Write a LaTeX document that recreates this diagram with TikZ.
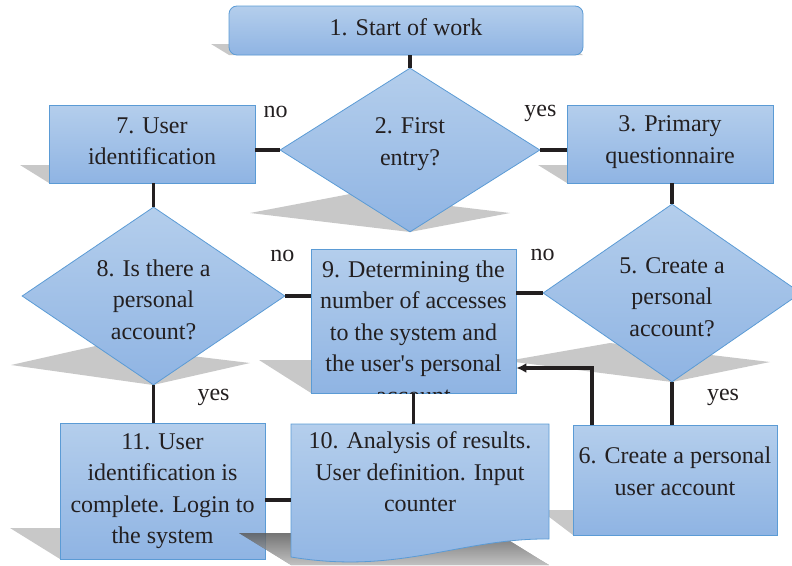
\documentclass[tikz,border=0pt]{standalone}
\usepackage{fontspec}
\setmainfont{Liberation Serif}
\usetikzlibrary{shapes.geometric,arrows.meta,calc}
\tikzset{>={Latex[length=10pt,width=10pt]}}
\definecolor{boxtop}{HTML}{B4CEEC}
\definecolor{boxbot}{HTML}{8FB4E3}
\definecolor{boxline}{HTML}{5B9BD5}
\definecolor{shade}{HTML}{C8C8C8}
\definecolor{ink}{HTML}{231F20}
\tikzset{
  block/.style={rectangle, draw=boxline, line width=0.8pt, top color=boxtop, bottom color=boxbot,
    align=center, text=ink, font=\fontsize{24}{31.5}\selectfont, inner sep=0pt},
  decision/.style={block, diamond, shape aspect=1.5},
  startbox/.style={block, rounded corners=8pt},
  lbl/.style={text=ink, font=\fontsize{24}{31.5}\selectfont, inner sep=0pt},
  link/.style={line width=3.5pt, draw=ink},
  shadowpoly/.style={fill=shade}
}

\begin{document}
\begin{tikzpicture}[x=1pt, y=-1pt]
      \useasboundingbox (0,0) rectangle (792,565);

      % shadows
      \fill[shadowpoly] (229,55) -- (583,55) -- (565,44) -- (211,44) -- cycle;
      \fill[shadowpoly] (410,232) -- (250,213) -- (350,194) -- (510,213) -- cycle;
      \fill[shadowpoly] (49,183) -- (255,183) -- (226,165) -- (20,165) -- cycle;
      \fill[shadowpoly] (567,183) -- (773,183) -- (744,165) -- (538,165) -- cycle;
      \fill[shadowpoly] (153,385) -- (11,365) -- (100,345) -- (250,363) -- cycle;
      \fill[shadowpoly] (672,382) -- (507,361) -- (610,343) -- (770,362) -- cycle;
      \fill[shadowpoly] (311,393) -- (516,393) -- (490,360) -- (259,360) -- cycle;
      \fill[shadowpoly] (60,559) -- (265,559) -- (240,528) -- (10,528) -- cycle;
      \fill[shadowpoly] (573,535) -- (777,535) -- (750,510) -- (540,510) -- cycle;

      \node[startbox, minimum width=354pt, minimum height=49pt, text depth=6pt] (start) at (406,30.5) {1. Start of work};
      \node[decision, minimum width=260pt, minimum height=164pt, text depth=17pt] (first) at (410,150) {2. First\\entry?};
      \node[block, minimum width=206pt, minimum height=78pt, text depth=6pt] (ident) at (152,144) {7. User\\identification};
      \node[block, minimum width=206pt, minimum height=78pt, text depth=9pt] (quest) at (670,144) {3. Primary\\questionnaire};
      \node[decision, minimum width=263pt, minimum height=178pt, text height=87pt] (hasacc) at (153.5,296) {8. Is there a\\personal\\account?};
      \node[block, minimum width=205pt, minimum height=144pt] (access) at (413.5,321) {};
      \begin{scope}
        \clip (access.south west) rectangle (access.north east);
        \node[lbl, anchor=north, align=center] (accesstext) at ([yshift=-12pt]access.north)
          {9. Determining the\\number of accesses\\to the system and\\the user\textquotesingle s personal\\account};
      \end{scope}
      \node[decision, minimum width=258pt, minimum height=178pt, text height=87pt] (makeacc) at (672,293) {5. Create a\\personal\\account?};
      \node[block, minimum width=205pt, minimum height=136pt] (login) at (162.5,491) {11. User\\identification is\\complete. Login to\\the system};
      \node[block, minimum width=204pt, minimum height=110pt, text depth=18pt] (newacc) at (675,480) {6. Create a personal\\user account};

      % document shape of step 10
      \fill[shade, opacity=0.6] (239,533) -- (497,533) -- (539,559) -- (549,565) -- (291,565) -- cycle;
      \path[draw=boxline, line width=0.8pt, top color=boxtop, bottom color=boxbot]
        (291,424) -- (549,424) -- (549,539) .. controls (460,538) and (400,575) .. (291,557) -- cycle;
      \node[lbl, align=center, minimum width=258pt, minimum height=96pt] (analysis) at (420,472)
        {10. Analysis of results.\\User definition. Input\\counter};

      \draw[link] (first.north |- start.south) -- (first.north);
      \draw[link] (first.west) -- node[lbl, at start, xshift=-4pt, yshift=38pt] (no1) {no} (first.west -| ident.east);
      \draw[link] (first.east) -- node[lbl, at start, yshift=37pt] (yes1) {yes} (first.east -| quest.west);
      \draw[link] (hasacc.north |- ident.south) -- (hasacc.north);
      \draw[link] (makeacc.north |- quest.south) -- (makeacc.north);
      \draw[link] (hasacc.east) -- node[lbl, at start, xshift=-3pt, yshift=40pt] (no2) {no} (hasacc.east -| access.west);
      \draw[link] (makeacc.west) -- node[lbl, at start, yshift=38pt] (no3) {no} (makeacc.west -| access.east);
      \draw[link] (hasacc.south) -- node[lbl, at start, xshift=60pt, yshift=-12pt] (yes2) {yes} (hasacc.south |- login.north);
      \draw[link] (makeacc.south) -- node[lbl, at start, xshift=51pt, yshift=-15pt] (yes3) {yes} (makeacc.south |- newacc.north);
      \draw[link] (access.south) -- (access.south |- analysis.north);
      \draw[link] ([yshift=-9pt]login.east) -- ([yshift=-9pt]login.east -| analysis.west);
      \draw[link, ->] ([xshift=-83pt]newacc.north) |- ([yshift=-47pt]access.east);
\end{tikzpicture}
\end{document}
